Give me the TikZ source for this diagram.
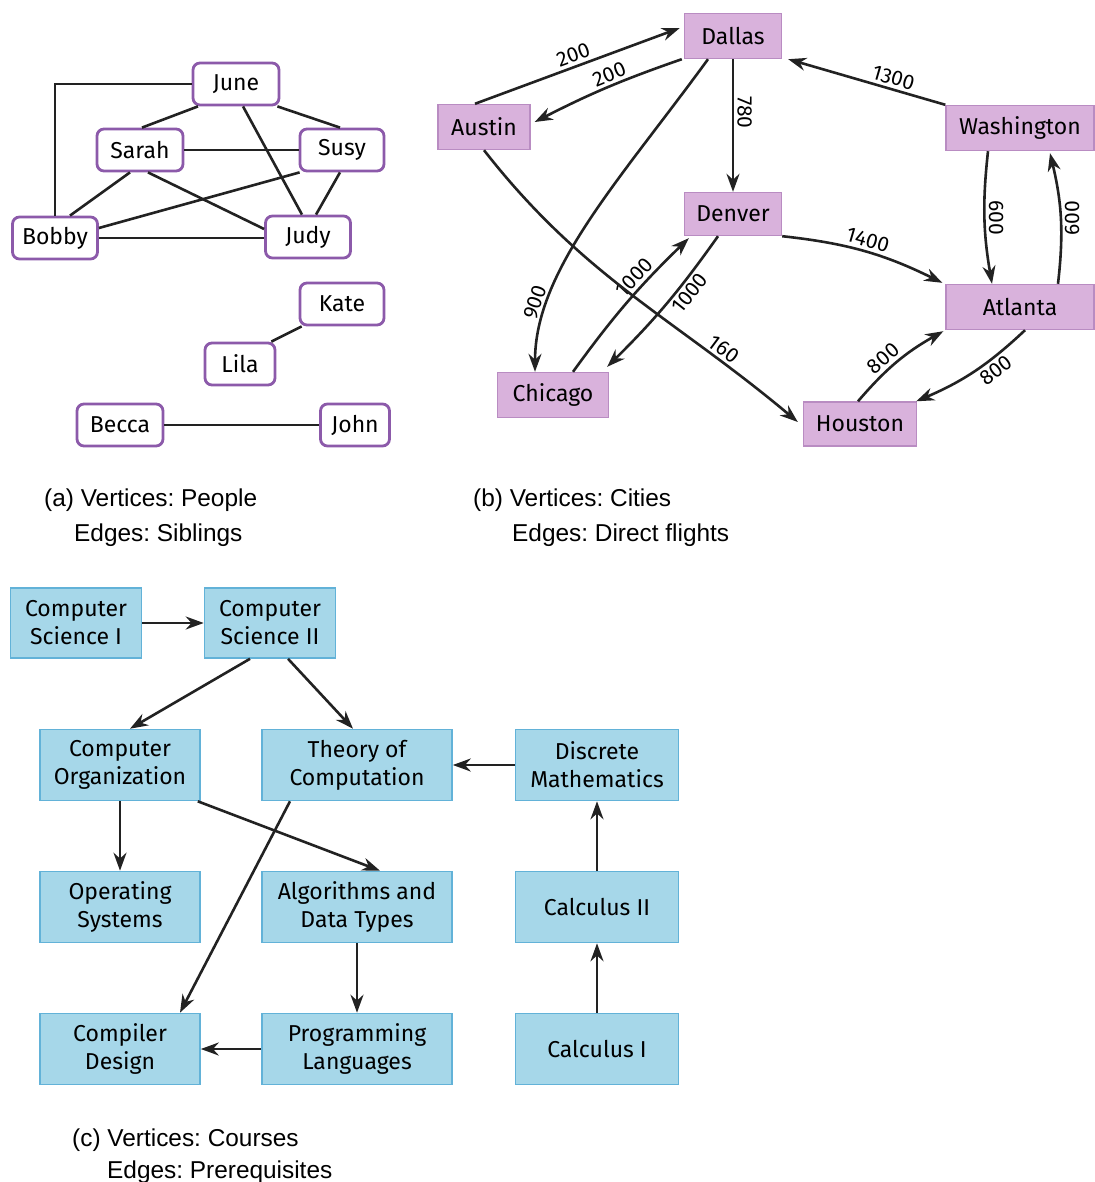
\documentclass[tikz,border=0pt]{standalone}
\usepackage{fontspec}
\setmainfont{Fira Sans}
\newfontfamily\capfont{Liberation Sans}
\usetikzlibrary{arrows.meta}
\frenchspacing

\definecolor{ink}{HTML}{222222}
\definecolor{personedge}{HTML}{8C5AAA}
\definecolor{cityfill}{HTML}{D9B2DC}
\definecolor{cityedge}{HTML}{B98CC2}
\definecolor{coursefill}{HTML}{A6D7E9}
\definecolor{courseedge}{HTML}{62B2D8}

\begin{document}
\begin{tikzpicture}[x=1pt,y=1pt,
  person/.style={draw=personedge, line width=2.8pt, rounded corners=7pt, fill=white,
    font=\fontsize{23}{26}\selectfont, minimum height=42pt, inner sep=0pt},
  city/.style={draw=cityedge, line width=1.4pt, fill=cityfill,
    font=\fontsize{23}{26}\selectfont, minimum height=45pt, inner sep=0pt},
  course/.style={draw=courseedge, line width=1.6pt, fill=coursefill, align=center,
    font=\fontsize{23}{28}\selectfont, minimum height=71pt, inner sep=0pt},
  link/.style={draw=ink, line width=2.6pt},
  flight/.style={link, -{Stealth[length=18pt,width=13pt]}},
  distfont/.style={font=\fontsize{21}{22}\selectfont, inner sep=3pt},
  dist/.style={distfont, sloped},
  caption/.style={font=\capfont\fontsize{24.4}{26}\selectfont, anchor=base west, inner sep=0pt}]

\useasboundingbox (0,0) rectangle (1094,-1182);

% ---------- (a) siblings ----------
\node[person, minimum width=86pt] (june)  at (236,-84)  {June};
\node[person, minimum width=86pt] (sarah) at (140,-150) {Sarah};
\node[person, minimum width=84pt] (susy)  at (342,-150) {Susy};
\node[person, minimum width=85pt] (bobby) at (55,-238)  {Bobby};
\node[person, minimum width=85pt] (judy)  at (308,-237) {Judy};
\node[person, minimum width=84pt] (kate)  at (342,-304) {Kate};
\node[person, minimum width=70pt] (lila)  at (240,-364) {Lila};
\node[person, minimum width=86pt] (becca) at (120,-425) {Becca};
\node[person, minimum width=69pt] (john)  at (355,-425) {John};

\draw[link] (june.west) -| (bobby.north);
\draw[link] ([xshift=-38pt]june.south) -- ([xshift=2pt]sarah.north);
\draw[link] ([xshift=-3pt]june.south east) -- ([xshift=-2pt]susy.north);
\draw[link] ([xshift=7pt]june.south) -- ([xshift=-6pt]judy.north);
\draw[link] (sarah) -- (susy);
\draw[link] ([xshift=-10pt]sarah.south) -- ([xshift=15pt]bobby.north);
\draw[link] ([xshift=8pt]sarah.south) -- ([yshift=8pt]judy.west);
\draw[link] ([xshift=1pt]susy.south west) -- ([yshift=10pt]bobby.east);
\draw[link] ([xshift=-2pt]susy.south) -- ([xshift=8pt]judy.north);
\draw[link] (bobby.east) -- (bobby.east -| judy.west);
\draw[link] ([xshift=-5pt]lila.north east) -- ([xshift=3pt]kate.south west);
\draw[link] (becca) -- (john);

\node[caption] (capa1) at (44,-506) {(a) Vertices: People};
\node[caption] (capa2) at (74,-541) {Edges: Siblings};

% ---------- (b) direct flights ----------
\node[city, minimum width=97pt]  (dallas)  at (733,-36)   {Dallas};
\node[city, minimum width=92pt]  (austin)  at (484,-127)  {Austin};
\node[city, minimum width=148pt] (wash)    at (1020,-128) {Washington};
\node[city, minimum width=97pt, minimum height=43pt] (denver) at (733,-214) {Denver};
\node[city, minimum width=148pt] (atlanta) at (1020,-307) {Atlanta};
\node[city, minimum width=111pt] (chicago) at (553,-395)  {Chicago};
\node[city, minimum width=113pt, minimum height=44pt] (houston) at (860,-424) {Houston};

\draw[flight] ([xshift=-9pt]austin.north) -- node[dist, midway, above] {200}
  ([xshift=-4pt,yshift=8pt]dallas.west);
\draw[flight] ([xshift=-2pt]dallas.south west) to[bend right=4]
  node[dist, pos=0.45, above] {200} ([xshift=4pt,yshift=5pt]austin.east);
\draw[flight] ([xshift=-25pt]dallas.south) .. controls (620,-180) and (535,-270) ..
  node[dist, pos=0.78, above] {900} ([xshift=-18pt]chicago.north);
\draw[flight] (dallas) -- node[dist, pos=0.4, above] {780} (denver);
\draw[flight] (wash.north west) -- node[dist, pos=0.35, above] {1300}
  ([xshift=6pt]dallas.south east);
\draw[flight] ([xshift=-32pt]wash.south) to[bend right=8]
  node[distfont, midway, rotate=-90, anchor=south] {600} ([xshift=-28pt]atlanta.north);
\draw[flight] ([xshift=38pt]atlanta.north) to[bend right=10]
  node[distfont, midway, rotate=90, anchor=north] {600} ([xshift=30pt,yshift=-2pt]wash.south);
\draw[flight] (denver.south east) to[bend left=10]
  node[dist, pos=0.5, above] {1400} ([xshift=-3pt,yshift=1pt]atlanta.north west);
\draw[flight] ([xshift=20pt]chicago.north) to[bend left=5]
  node[dist, pos=0.64, above] {1000} ([xshift=5pt,yshift=-2pt]denver.south west);
\draw[flight] ([xshift=-15pt]denver.south) to[bend left=5]
  node[dist, pos=0.35, below] {1000} ([xshift=-2pt,yshift=5pt]chicago.north east);
\draw[flight] (austin.south) to[out=-52, in=140]
  node[dist, pos=0.77, above] {160} ([xshift=-5pt,yshift=2pt]houston.west);
\draw[flight] ([xshift=-2pt]houston.north) to[bend left=10]
  node[dist, pos=0.42, above] {800} ([xshift=-2pt,yshift=-1pt]atlanta.south west);
\draw[flight] ([xshift=5pt]atlanta.south) to[bend left=10]
  node[dist, pos=0.35, below] {800} ([xshift=-1pt]houston.north east);

\node[caption] (capb1) at (473,-506) {(b) Vertices: Cities};
\node[caption] (capb2) at (512,-541) {Edges: Direct flights};

% ---------- (c) prerequisites ----------
\node[course, minimum width=131pt, minimum height=70pt] (cs1) at (76,-623) {Computer\\Science I};
\node[course, minimum width=131pt, minimum height=70pt] (cs2) at (270,-623) {Computer\\Science II};
\node[course, minimum width=160pt] (org)    at (120,-765) {Computer\\Organization};
\node[course, minimum width=190pt] (theory) at (357,-765) {Theory of\\Computation};
\node[course, minimum width=163pt] (disc)   at (597,-765) {Discrete\\Mathematics};
\node[course, minimum width=160pt] (os)     at (120,-907) {Operating\\Systems};
\node[course, minimum width=190pt] (alg)    at (357,-907) {Algorithms and\\Data Types};
\node[course, minimum width=163pt] (calc2)  at (597,-907) {Calculus II};
\node[course, minimum width=160pt] (comp)   at (120,-1049) {Compiler\\Design};
\node[course, minimum width=190pt] (pl)     at (357,-1049) {Programming\\Languages};
\node[course, minimum width=163pt] (calc1)  at (597,-1049) {Calculus I};

\draw[flight] (cs1) -- (cs2);
\draw[flight] ([xshift=-20pt]cs2.south) -- ([xshift=10pt]org.north);
\draw[flight] ([xshift=18pt]cs2.south) -- ([xshift=-4pt]theory.north);
\draw[flight] (disc) -- (theory);
\draw[flight] (org) -- (os);
\draw[flight] ([xshift=-3pt]org.south east) -- ([xshift=23pt]alg.north);
\draw[flight] ([xshift=-67pt]theory.south) -- ([xshift=60pt]comp.north);
\draw[flight] (alg) -- (pl);
\draw[flight] (pl) -- (comp);
\draw[flight] (calc2) -- (disc);
\draw[flight] (calc1) -- (calc2);

\node[caption] (capc1) at (72,-1146) {(c) Vertices: Courses};
\node[caption] (capc2) at (107,-1178) {Edges: Prerequisites};
\end{tikzpicture}
\end{document}
